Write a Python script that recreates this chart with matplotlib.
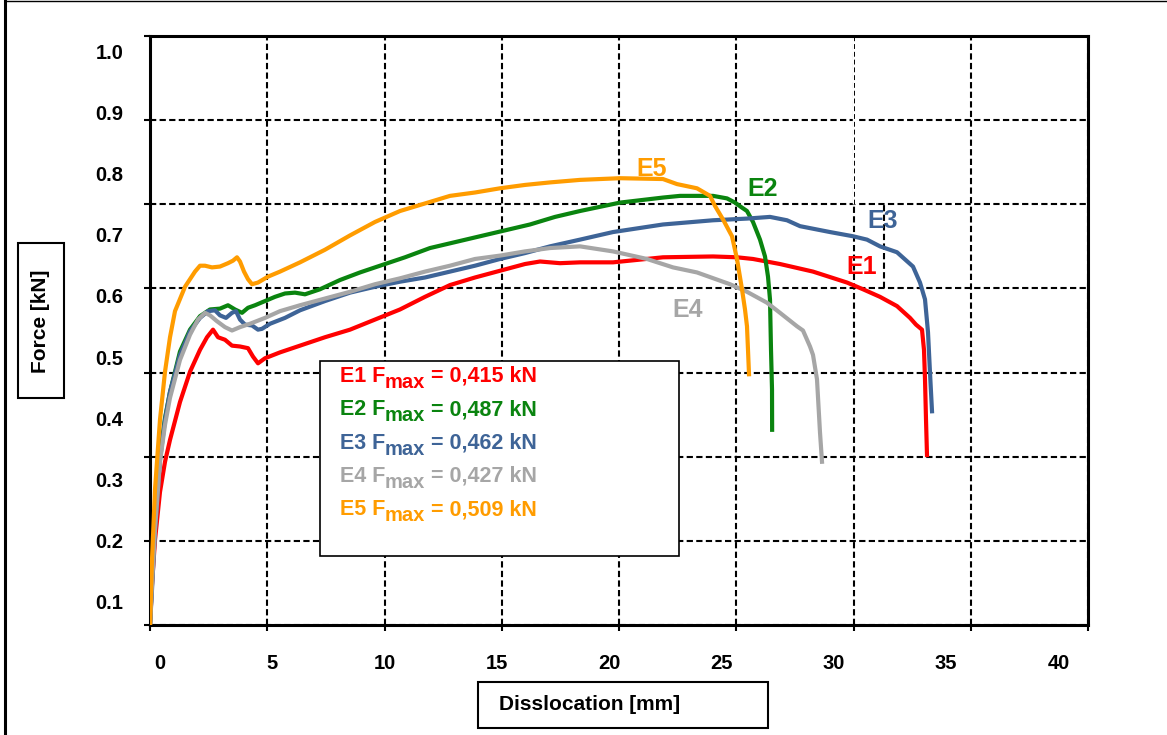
import numpy as np
import matplotlib
matplotlib.use("Agg")
import matplotlib.pyplot as plt
from matplotlib.patches import Rectangle
from matplotlib.lines import Line2D

plt.rcParams["font.family"] = "Liberation Sans"
plt.rcParams["font.weight"] = "bold"

# pull-out curves, displacement [mm] vs force [kN]
e1_x = [0, 0.085, 0.213, 0.426, 0.640, 0.853, 1.279, 1.706, 2.132, 2.431, 2.687, 2.900, 3.198,
        3.497, 3.838, 4.179, 4.392, 4.606, 4.904, 5.544, 6.397, 7.463, 8.529, 9.595, 10.661,
        11.727, 12.793, 13.859, 14.925, 15.991, 16.631, 17.484, 18.337, 19.744, 21.876, 24.009,
        25.032, 25.714, 26.866, 28.273, 29.723, 30.405, 31.130, 31.855, 32.409, 32.665, 32.921,
        33.006, 33.049, 33.092, 33.134]
e1_y = [0, 0.048, 0.101, 0.158, 0.194, 0.220, 0.265, 0.301, 0.327, 0.342, 0.351, 0.342, 0.339,
        0.332, 0.331, 0.329, 0.319, 0.311, 0.317, 0.324, 0.332, 0.342, 0.351, 0.363, 0.375,
        0.390, 0.404, 0.413, 0.421, 0.429, 0.432, 0.430, 0.431, 0.431, 0.437, 0.438,
        0.437, 0.435, 0.429, 0.420, 0.407, 0.399, 0.390, 0.379, 0.365, 0.357, 0.351,
        0.327, 0.292, 0.244, 0.202]

e2_x = [0, 0.085, 0.213, 0.426, 0.640, 0.853, 1.279, 1.706, 2.132, 2.559, 2.985, 3.326, 3.625,
        3.923, 4.179, 4.478, 4.904, 5.330, 5.757, 6.183, 6.610, 7.249, 8.102, 8.955, 9.808,
        10.874, 11.940, 13.006, 14.072, 15.139, 16.205, 17.271, 18.337, 20.043, 21.876, 22.601,
        24.009, 24.606, 24.947, 25.245, 25.458, 25.714, 26.013, 26.226, 26.354, 26.439, 26.482,
        26.525, 26.530]
e2_y = [0, 0.054, 0.119, 0.202, 0.246, 0.277, 0.325, 0.351, 0.367, 0.375, 0.376, 0.380, 0.375,
        0.371, 0.377, 0.380, 0.385, 0.390, 0.394, 0.395, 0.393, 0.399, 0.410, 0.419, 0.427,
        0.437, 0.448, 0.455, 0.462, 0.469, 0.476, 0.485, 0.492, 0.502, 0.508, 0.510,
        0.510, 0.507, 0.502, 0.496, 0.492, 0.479, 0.458, 0.438, 0.414, 0.387, 0.327,
        0.280, 0.232]

e3_x = [0, 0.085, 0.213, 0.426, 0.640, 0.853, 1.279, 1.706, 2.132, 2.473, 2.772, 2.985, 3.241,
        3.497, 3.667, 3.838, 4.051, 4.350, 4.606, 4.776, 5.117, 5.757, 6.397, 7.463, 8.529,
        9.595, 10.661, 11.727, 12.793, 13.859, 14.925, 15.991, 17.058, 18.337, 19.744, 21.876,
        24.009, 25.458, 26.439, 27.164, 27.719, 28.998, 29.979, 30.576, 31.130, 31.855, 32.537,
        32.836, 33.049, 33.177, 33.262, 33.348]
e3_y = [0, 0.042, 0.113, 0.196, 0.244, 0.277, 0.321, 0.349, 0.365, 0.373, 0.374, 0.368, 0.365,
        0.371, 0.373, 0.363, 0.357, 0.356, 0.351, 0.352, 0.358, 0.365, 0.374, 0.385, 0.395,
        0.402, 0.408, 0.413, 0.420, 0.427, 0.435, 0.442, 0.450, 0.458, 0.467, 0.476,
        0.481, 0.483, 0.485, 0.481, 0.474, 0.467, 0.462, 0.458, 0.450, 0.443, 0.426,
        0.407, 0.387, 0.348, 0.300, 0.254]

e4_x = [0, 0.085, 0.213, 0.426, 0.640, 0.853, 1.279, 1.706, 2.047, 2.345, 2.559, 2.857, 3.198,
        3.497, 3.838, 4.264, 4.904, 5.544, 6.397, 7.463, 8.529, 9.595, 10.661, 11.727, 12.793,
        13.859, 14.925, 15.991, 17.058, 18.337, 19.744, 21.194, 22.303, 23.326, 24.733, 25.458,
        26.311, 26.866, 27.591, 27.846, 28.145, 28.273, 28.443, 28.571, 28.657]
e4_y = [0, 0.048, 0.113, 0.194, 0.238, 0.270, 0.315, 0.345, 0.363, 0.371, 0.368, 0.361, 0.354,
        0.350, 0.354, 0.358, 0.365, 0.373, 0.380, 0.388, 0.396, 0.405, 0.412, 0.420, 0.427,
        0.435, 0.439, 0.444, 0.448, 0.450, 0.444, 0.435, 0.425, 0.419, 0.405, 0.396,
        0.383, 0.371, 0.355, 0.350, 0.331, 0.321, 0.292, 0.229, 0.194]

e5_x = [0, 0.085, 0.213, 0.426, 0.640, 0.853, 1.066, 1.493, 1.919, 2.132, 2.345, 2.644, 2.985,
        3.326, 3.539, 3.710, 3.838, 4.009, 4.179, 4.350, 4.606, 5.032, 5.544, 6.397, 7.463,
        8.529, 9.595, 10.661, 11.727, 12.793, 13.859, 14.925, 15.991, 17.058, 18.337, 20.043,
        21.876, 22.473, 23.326, 23.881, 24.094, 24.435, 24.819, 25.032, 25.245, 25.373, 25.458,
        25.501, 25.544]
e5_y = [0, 0.077, 0.161, 0.244, 0.301, 0.342, 0.373, 0.402, 0.420, 0.427, 0.427, 0.425, 0.426,
        0.430, 0.433, 0.437, 0.432, 0.420, 0.411, 0.405, 0.407, 0.414, 0.420, 0.431, 0.446,
        0.463, 0.479, 0.492, 0.501, 0.510, 0.514, 0.519, 0.523, 0.526, 0.529, 0.531,
        0.530, 0.524, 0.519, 0.510, 0.498, 0.482, 0.462, 0.435, 0.399, 0.375, 0.355,
        0.327, 0.298]

names = ["E1", "E2", "E3", "E4", "E5"]
fmax = [0.415, 0.487, 0.462, 0.427, 0.509]
colors = ["#FF0000", "#0A840F", "#3E6497", "#A6A6A6", "#FF9C00"]
curves = [(e1_x, e1_y), (e2_x, e2_y), (e3_x, e3_y), (e4_x, e4_y), (e5_x, e5_y)]

# where the curve names sit next to their curves
name_x = [30.36, 26.14, 31.26, 22.94, 21.41]
name_y = [0.425, 0.518, 0.480, 0.374, 0.542]

x_tick_labels = ["0", "5", "10", "15", "20", "25", "30", "35", "40"]
y_tick_labels = ["0.1", "0.2", "0.3", "0.4", "0.5", "0.6", "0.7", "0.8", "0.9", "1.0"]

W, H = 1167, 735
fig = plt.figure(figsize=(W / 100, H / 100), dpi=100)
pos = [150 / W, 110 / H, 938 / W, 589 / H]
ax = fig.add_axes(pos)

for (x, y), c in zip(curves, colors):
    ax.plot(x, y, color=c, lw=3, solid_joinstyle="round", zorder=3)

for n, xx, yy, c in zip(names, name_x, name_y, colors):
    ax.text(xx, yy, n, color=c, fontsize=18, ha="center", va="center", zorder=4)

ax.set_xlim(0, 40)
ax.set_ylim(0, 0.7)
ax.set_xticks(np.arange(0, 41, 5))
ax.set_yticks(np.arange(0, 0.71, 0.1))
ax.tick_params(direction="out", length=4, width=1.5, labelbottom=False, labelleft=False)
ax.set_axisbelow(True)
ax.grid(True, color="black", lw=1.5, ls=(0, (3, 1.6)))
for s in ax.spines.values():
    s.set_linewidth(2.2)

# leftover frame lines around the E3 label
ax.vlines(30, 0.5, 0.7, color="white", lw=2.5, zorder=0.8)
ax.vlines(30, 0.5, 0.7, color="black", lw=0.7, ls=(0, (5, 3)), zorder=0.9)
ax.vlines(31.3, 0.4, 0.5, color="black", lw=1.5, ls=(0, (3, 1.6)), zorder=0.9)

# Fmax box
ax.add_patch(Rectangle((0.1812, 0.1171), 0.3828, 0.3311, transform=ax.transAxes,
                       facecolor="white", edgecolor="black", lw=1.2, zorder=1.5))
for i, (n, fm, c) in enumerate(zip(names, fmax, colors)):
    val = f"{fm:.3f}".replace(".", ",")
    head = ax.text(0.2026, 0.4126 - i * 0.0566, f"{n} F", transform=ax.transAxes,
                   color=c, fontsize=15.5, ha="left", va="baseline", zorder=5)
    sub = ax.annotate("max", xy=(1, 0), xycoords=head, xytext=(-0.5, -3.5),
                      textcoords="offset points", color=c, fontsize=14.5,
                      ha="left", va="bottom", zorder=5)
    ax.annotate(f" = {val} kN", xy=(1, 0), xycoords=(sub, head), color=c, fontsize=15.5,
                ha="left", va="bottom", zorder=5)

# tick label layer
lab = fig.add_axes(pos, facecolor="none")
lab.set_xlim(-0.43, 41.31)
lab.set_ylim(0.062, 1.025)
lab.set_xticks(np.arange(0, 41, 5), x_tick_labels)
lab.set_yticks(np.arange(0.1, 1.01, 0.1), y_tick_labels)
lab.tick_params(axis="x", length=0, pad=21, labelsize=14.5)
lab.tick_params(axis="y", length=0, pad=19, labelsize=14.5)
for s in lab.spines.values():
    s.set_visible(False)

# axis titles in framed boxes
fig.add_artist(Rectangle((18 / W, 1 - 398 / H), 46 / W, 155 / H, transform=fig.transFigure,
                         facecolor="white", edgecolor="black", lw=1.5))
fig.text(41 / W, 1 - 321 / H, "Force [kN]", rotation=90, fontsize=15, ha="center", va="center")
fig.add_artist(Rectangle((478 / W, 1 - 728 / H), 290 / W, 46 / H, transform=fig.transFigure,
                         facecolor="white", edgecolor="black", lw=1.5))
fig.text(499 / W, 1 - 705 / H, "Disslocation [mm]", fontsize=15, ha="left", va="center")

# outer frame (left and top edges)
fig.add_artist(Line2D([5 / W, 5 / W], [0, 1], transform=fig.transFigure, color="black", lw=2.2))
fig.add_artist(Line2D([5 / W, 1], [1 - 0.6 / H, 1 - 0.6 / H], transform=fig.transFigure,
                      color="black", lw=1.0))

fig.savefig("out.png", dpi=100)
